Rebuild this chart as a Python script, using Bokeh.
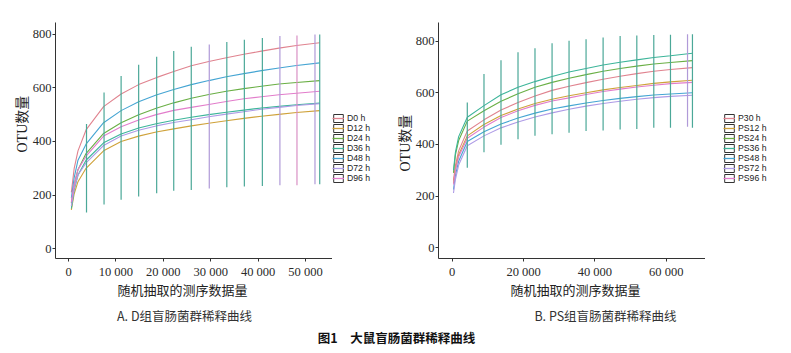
from bokeh.plotting import figure
from bokeh.models import (Range1d, FixedTicker, Legend, LegendItem, Title,
                          ColumnDataSource)
from bokeh.layouts import row, column
from bokeh.core.properties import value
from bokeh.embed import file_html
from bokeh.resources import INLINE

# ---------------- data: panel A (D group) ----------------
depth_a = [600, 1200, 2000, 3700, 7400, 11100, 14800, 18500, 22200, 25900,
           29600, 33300, 37000, 40700, 44400, 48100, 53000]
d0_h = [210, 300, 365, 443, 530, 577, 612, 638, 661, 682, 698, 712, 725, 737, 748, 758, 768]
d12_h = [145, 205, 250, 300, 365, 400, 420, 435, 447, 458, 468, 477, 486, 494, 501, 508, 515]
d24_h = [170, 240, 295, 355, 430, 470, 500, 524, 544, 561, 575, 587, 597, 606, 614, 620, 627]
d36_h = [150, 220, 275, 330, 395, 428, 450, 466, 479, 490, 500, 509, 517, 525, 531, 537, 543]
d48_h = [190, 265, 330, 390, 470, 515, 548, 573, 594, 612, 627, 641, 653, 664, 674, 683, 693]
d72_h = [160, 225, 275, 320, 385, 420, 442, 458, 471, 481, 492, 502, 511, 520, 527, 534, 541]
d96_h = [175, 240, 295, 345, 420, 455, 480, 500, 516, 527, 538, 549, 559, 567, 574, 580, 587]
labels_a = ["D0 h", "D12 h", "D24 h", "D36 h", "D48 h", "D72 h", "D96 h"]

err_x_a = [3800, 7500, 11100, 14800, 18600, 22200, 25900, 29700, 33400, 37100,
           40900, 44600, 48200, 52000, 53000]
err_lo_a = [135, 165, 183, 195, 207, 216, 219, 225, 229, 232, 234, 237, 237, 240, 240]
err_hi_a = [465, 583, 644, 686, 716, 737, 753, 762, 771, 779, 786, 793, 795, 799, 799]

x_ticks_a = [0, 10000, 20000, 30000, 40000, 50000]
x_tick_labels_a = ["0", "10 000", "20 000", "30 000", "40 000", "50 000"]

# ---------------- data: panel B (PS group) ----------------
depth_b = [350, 900, 1800, 4220, 8900, 13670, 18440, 23200, 27990, 32750,
           37520, 42300, 47070, 51750, 56510, 61190, 67350]
p30_h = [260, 320, 375, 452, 495, 533, 562, 587, 609, 625, 639, 652, 664, 674, 683, 690, 697]
ps12_h = [250, 305, 360, 433, 477, 512, 537, 558, 575, 588, 600, 611, 620, 628, 636, 642, 648]
ps24_h = [290, 360, 415, 490, 530, 567, 596, 621, 640, 656, 670, 683, 694, 703, 711, 717, 724]
ps36_h = [300, 370, 430, 505, 550, 592, 621, 643, 663, 680, 694, 707, 718, 727, 736, 743, 753]
ps48_h = [225, 280, 335, 411, 449, 479, 502, 521, 537, 549, 560, 570, 578, 585, 591, 595, 600]
ps72_h = [212, 265, 320, 395, 433, 464, 487, 506, 522, 536, 548, 558, 567, 575, 581, 586, 590]
ps96_h = [245, 300, 352, 424, 467, 504, 530, 551, 568, 580, 593, 605, 614, 622, 629, 635, 640]
labels_b = ["P30 h", "PS12 h", "PS24 h", "PS36 h", "PS48 h", "PS72 h", "PS96 h"]

err_x_b = [4220, 8900, 13670, 18440, 23200, 27990, 32750, 37520, 42300, 47070,
           51750, 56510, 61190, 65970, 67350]
err_lo_b = [310, 370, 399, 420, 433, 439, 445, 452, 454, 458, 460, 464, 464, 468, 464]
err_hi_b = [562, 672, 726, 757, 772, 791, 801, 807, 814, 819, 821, 823, 824, 826, 826]

x_ticks_b = [0, 20000, 40000, 60000]
x_tick_labels_b = ["0", "20 000", "40 000", "60 000"]

y_ticks = [0, 200, 400, 600, 800]

x_title = "随机抽取的测序数据量"
y_title = "OTU数量"
captions = ["A. D组盲肠菌群稀释曲线", "B. PS组盲肠菌群稀释曲线"]
fig_title = "图1\u3000大鼠盲肠菌群稀释曲线"

# ---------------- styles ----------------
palette = ["#E0838F", "#CFA23A", "#6AAF45", "#3DB59A", "#45A5D3", "#AE9BE6", "#E27DCB"]
TEAL, LAV, PINK = "#4BA898", "#B09AD8", "#D990C4"
err_colors_a = [TEAL] * 7 + [LAV] + [TEAL] * 3 + [LAV, PINK, LAV, TEAL]
err_colors_b = [TEAL] * 13 + [LAV, TEAL]

SERIF = "Liberation Serif"
MIXED = "'Liberation Serif', 'Noto Sans CJK SC'"
AXIS_COL = "#333333"
H = 300


def make_panel(width, frame, xr, yr, depth, series, ex, elo, ehi, ecols,
               xt, xtl, x_off, y_off):
    fl, fr, ft, fb = frame
    p = figure(width=width, height=H, x_range=xr, y_range=yr,
               output_backend="svg", toolbar_location=None,
               min_border_left=fl, min_border_right=width - fr,
               min_border_top=ft, min_border_bottom=H - fb)
    p.outline_line_color = None
    p.grid.visible = False

    for vals, c in zip(series, palette):
        p.line(depth, vals, line_color=c, line_width=1.1)
    src = ColumnDataSource(dict(x=ex, lo=elo, hi=ehi, c=ecols))
    p.segment(x0="x", y0="lo", x1="x", y1="hi", line_color="c",
              line_width=1.2, source=src)

    for ax in (p.xaxis[0], p.yaxis[0]):
        ax.axis_line_color = AXIS_COL
        ax.axis_line_width = 1
        ax.major_tick_line_color = AXIS_COL
        ax.major_tick_in = 0
        ax.major_tick_out = 3
        ax.minor_tick_line_color = None
        ax.major_label_text_font = SERIF
        ax.major_label_text_font_size = "12.5px"
        ax.major_label_text_color = "#2a2a2a"
    p.xaxis.ticker = FixedTicker(ticks=xt)
    p.xaxis.major_label_overrides = {t: l for t, l in zip(xt, xtl)}
    p.xaxis.major_label_standoff = 3
    p.yaxis.ticker = FixedTicker(ticks=y_ticks)
    p.yaxis.major_label_standoff = 1

    p.add_layout(Title(text=x_title, align="left", offset=x_off, standoff=2,
                       vertical_align="top",
                       text_font=MIXED, text_font_size="13px",
                       text_font_style="normal", text_color="#222222"), "below")
    p.add_layout(Title(text=y_title, align="left", offset=y_off, standoff=0,
                       text_font=MIXED, text_font_size="14px",
                       text_font_style="normal", text_color="#222222"), "left")
    return p


def make_legend(width, names, depth, series, loc):
    # legend proxies use the panel's data; their ranges keep them off-canvas
    q = figure(width=width, height=H, x_range=Range1d(0, 1), y_range=Range1d(0, 1),
               output_backend="svg", toolbar_location=None,
               x_axis_location=None, y_axis_location=None, min_border=0)
    q.outline_line_color = None
    q.grid.visible = False
    box = q.rect(x=depth[:1], y=series[0][:1], width=1, height=1,
                 fill_color="white", line_color="#333333", line_width=1)
    items = []
    for n, vals, c in zip(names, series, palette):
        ln = q.line(x=depth, y=vals, line_color=c, line_width=1.3)
        items.append(LegendItem(label=n, renderers=[box, ln]))
    leg = Legend(items=items, location=loc, orientation="vertical",
                 glyph_width=12, glyph_height=10, label_height=10, spacing=0,
                 padding=0, margin=0, label_standoff=3,
                 label_text_font="Liberation Sans", label_text_font_size="8.7px",
                 label_text_color="#222222", border_line_color=None,
                 background_fill_alpha=0)
    q.add_layout(leg)
    return q


series_a = [d0_h, d12_h, d24_h, d36_h, d48_h, d72_h, d96_h]
series_b = [p30_h, ps12_h, ps24_h, ps36_h, ps48_h, ps72_h, ps96_h]

p1 = make_panel(332, (55, 332, 20, 262), Range1d(-2743, 55696), Range1d(-36.4, 843.6),
                depth_a, series_a, err_x_a, err_lo_a, err_hi_a, err_colors_a,
                x_ticks_a, x_tick_labels_a, 62, 106)
l1 = make_legend(63, labels_a, depth_a, series_a, (0, 75))
p2 = make_panel(310, (38, 310, 22, 264), Range1d(-3853, 71009), Range1d(-41.5, 871.7),
                depth_b, series_b, err_x_b, err_lo_b, err_hi_b, err_colors_b,
                x_ticks_b, x_tick_labels_b, 72, 87)
l2 = make_legend(86, labels_b, depth_b, series_b, (18, 75))

# ---------------- captions ----------------
p3 = figure(width=791, height=53, x_range=Range1d(0, 791), y_range=Range1d(353, 300),
            output_backend="svg", toolbar_location=None,
            x_axis_location=None, y_axis_location=None, min_border=0)
p3.outline_line_color = None
p3.grid.visible = False
p3.text(x=[184, 605], y=[315, 315], text=captions, text_align="center",
        text_baseline="middle", text_font=value("Noto Sans CJK SC"),
        text_font_size="12.5px", text_color="#333333")
p3.text(x=[396], y=[337], text=[fig_title], text_align="center",
        text_baseline="middle", text_font=value("Noto Sans CJK SC"),
        text_font_size="12.5px", text_font_style="bold", text_color="#111111")

layout = column(row(p1, l1, p2, l2, spacing=0), p3, spacing=0)
open("out.html", "w").write(file_html(layout, INLINE))
